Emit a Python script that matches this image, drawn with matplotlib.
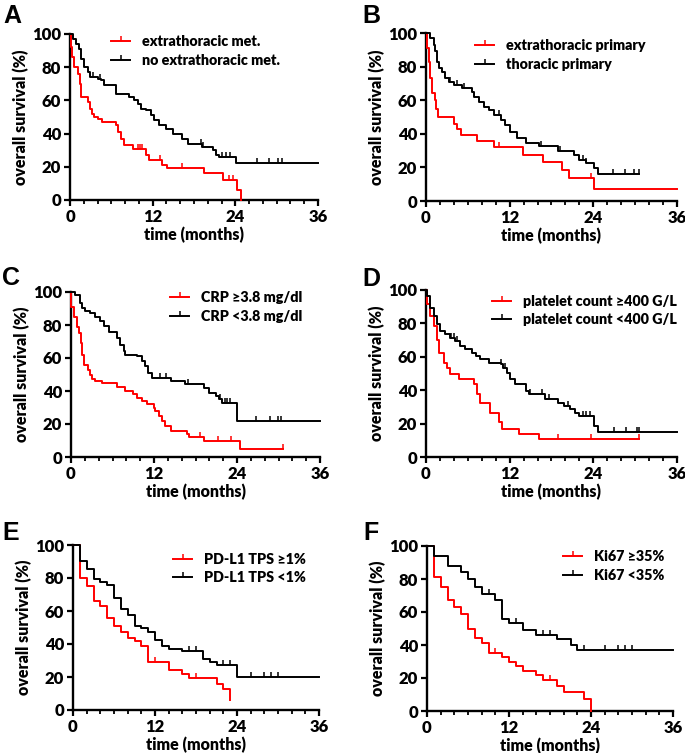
import numpy as np
import matplotlib
matplotlib.use("Agg")
import matplotlib.pyplot as plt
from matplotlib.path import Path
from matplotlib.lines import Line2D

plt.rcParams['font.family'] = ['Lato', 'DejaVu Sans']
plt.rcParams['font.weight'] = 'heavy'

# ---- data: event times (months), survival (%) after each event, end of follow-up, censor times
# A
a_red_t = [0, 0.1, 0.3, 0.6, 1.1, 1.4, 1.6, 2.6, 2.9, 3.2, 3.5, 4.0, 4.7, 6.7, 7.0, 7.4, 7.9, 9.1,
           11.0, 11.5, 13.4, 14.1, 19.5, 22.2, 24.2, 24.8]
a_red_s = [100, 92, 86, 80, 76, 70, 62, 59, 55, 52, 50, 49, 47, 45, 41, 37, 33, 31,
           27, 24, 21, 19, 16, 12, 6, 0]
a_red_end = 24.8
a_red_c = [9.8, 10.1, 10.5, 13.1, 16.2, 23.1, 23.6]
a_blk_t = [0, 0.4, 0.9, 1.25, 1.6, 2.1, 2.6, 2.9, 4.0, 4.5, 5.0, 6.7, 8.6, 9.3, 9.8, 10.3, 11.0,
           11.7, 12.2, 12.9, 13.9, 14.9, 16.3, 17.1, 19.2, 20.7, 21.2, 21.6, 24.1]
a_blk_s = [100, 97, 94, 91, 85, 80, 77, 74, 73, 72, 69, 64, 62, 60, 58, 55, 54,
           51, 48, 45, 43, 40, 37, 34, 32, 30, 27, 26, 22]
a_blk_end = 36
a_blk_c = [3.3, 4.4, 19.0, 19.3, 22.0, 22.6, 23.2, 27.1, 28.9, 30.2, 30.8]

# B
b_red_t = [0, 0.14, 0.38, 0.62, 0.86, 1.24, 1.43, 1.72, 4.0, 4.45, 5.07, 7.3, 9.7, 13.9, 16.8,
           19.5, 20.5, 24.1]
b_red_s = [100, 91, 83, 73, 64, 60, 55, 50, 46, 43, 39, 36, 32, 27.5, 23, 18.5, 13.5, 7]
b_red_end = 36
b_red_c = [10.4, 23.6]
b_blk_t = [0, 0.62, 1.1, 1.34, 1.58, 1.82, 2.3, 2.78, 3.25, 3.97, 5.17, 6.6, 6.84, 7.56, 8.28,
           9.0, 9.7, 10.7, 11.4, 12.1, 13.1, 14.3, 16.2, 19.0, 21.2, 21.9, 22.9, 24.1, 24.6]
b_blk_s = [100, 97, 93, 89, 83, 79, 77, 73, 71, 69, 67, 65, 62, 59, 56,
           54, 51, 48, 45, 41, 37.5, 34.5, 32.5, 29.5, 27.5, 24.5, 22.5, 19.5, 16]
b_blk_end = 30.6
b_blk_c = [3.5, 4.4, 5.5, 10.5, 16.5, 19.2, 22.0, 22.5, 23.0, 26.8, 28.6, 29.8, 30.6]

# C
c_red_t = [0, 0.05, 0.48, 0.87, 1.1, 1.45, 1.6, 1.83, 2.4, 2.7, 3.0, 3.5, 4.5, 6.6, 7.85, 9.0,
           9.5, 10.3, 11.0, 12.0, 12.2, 12.7, 13.2, 13.6, 14.4, 16.8, 17.0, 19.2, 24.5]
c_red_s = [100, 91, 85, 79, 75, 69, 62, 56, 53, 50, 47, 46, 45, 42.5, 40, 38,
           36, 34, 32, 30, 28, 25, 22, 19, 16, 14, 12, 10, 5]
c_red_end = 30.6
c_red_c = [18.7, 21.2, 23.1, 30.6]
c_blk_t = [0, 0.63, 1.35, 1.6, 2.07, 2.8, 3.5, 4.24, 4.7, 5.45, 6.65, 7.13, 7.6, 7.86, 9.5,
           10.3, 10.75, 11.2, 11.7, 14.4, 16.5, 19.3, 19.9, 20.9, 21.4, 21.9, 24.0]
c_blk_s = [100, 98, 93.5, 90.5, 88.5, 87, 85, 82.5, 79.5, 75.5, 72, 68, 64, 62, 61,
           58, 55, 51, 48, 46, 44, 42, 39, 37, 35, 33, 22]
c_blk_end = 36
c_blk_c = [12.9, 13.8, 16.9, 21.6, 22.2, 22.6, 23.0, 26.8, 28.8, 29.9, 30.3]

# D
d_red_t = [0, 0.14, 0.62, 1.1, 1.58, 1.82, 2.54, 3.0, 3.5, 4.7, 6.85, 7.3, 7.8, 9.2, 10.4,
           10.9, 13.3, 16.2]
d_red_s = [100, 91.5, 84.5, 78.5, 70, 62, 56, 53, 50, 47, 44, 38, 32.5, 26.5, 21,
           17, 14, 10.5]
d_red_end = 30.6
d_red_c = [19.0, 23.7, 30.6]
d_blk_t = [0, 0.14, 0.62, 1.1, 1.58, 2.06, 2.78, 3.5, 4.2, 4.9, 5.65, 6.6, 7.1, 7.8, 9.0, 10.7,
           11.1, 11.6, 12.1, 12.8, 14.3, 14.8, 17.1, 19.0, 19.8, 20.7, 21.4, 21.9, 24.1, 24.6]
d_blk_s = [100, 96.5, 89.5, 84.5, 79.5, 75.5, 73.5, 71.5, 69.5, 66.5, 64.5, 62.5, 60.5, 58.5,
           56.5, 55.5, 53.5, 50.5, 46.5, 43.5, 39.5, 37.5, 34.5, 32.5, 30.5, 28.5, 26.5, 24.5,
           18.5, 15]
d_blk_end = 36
d_blk_c = [3.6, 4.0, 4.5, 10.8, 11.3, 14.9, 16.7, 17.6, 20.4, 22.5, 23.0, 23.5, 26.9, 28.7,
           30.2, 30.6]

# E
e_red_t = [0, 1, 2, 3, 4, 5, 6, 7, 8, 9, 10, 11, 14, 16, 17, 21, 22, 23]
e_red_s = [100, 80, 75, 66, 63, 56, 51, 47.5, 43.5, 42, 38.5, 29, 24.5, 22, 19.5, 16, 12.5, 6]
e_red_end = 23
e_red_c = [12, 18]
e_blk_t = [0, 1, 2, 3, 4, 5, 6, 7, 8, 9, 10, 11, 12, 13, 14, 16, 19, 20, 21, 24]
e_blk_s = [100, 90.5, 85.5, 79.5, 77.5, 75.5, 68, 61, 57.5, 51, 49.5, 47.5, 42.5, 39, 37,
           35.5, 31, 29, 27, 20]
e_blk_end = 36
e_blk_c = [17, 18, 22, 23, 26, 28, 29, 30]

# F
f_red_t = [0, 1, 2, 3, 4, 5, 6, 7, 8, 9, 11, 12, 13, 14, 16, 17, 19, 20, 23, 24]
f_red_s = [100, 81, 75, 67, 63, 59, 50, 44, 41.5, 35, 33, 30, 27, 24.5, 22, 18.5, 15, 11.5,
           7.5, 0]
f_red_end = 24
f_red_c = [10, 18]
f_blk_t = [0, 1, 3, 5, 6, 7, 8, 10, 11, 12, 14, 16, 19, 21, 22]
f_blk_s = [100, 94, 88, 84, 80, 75, 71, 67.5, 56, 53.5, 49, 46, 43.5, 40, 37]
f_blk_end = 36
f_blk_c = [9, 13, 17, 18, 23, 26, 28, 29, 30]

labels = {
    'A': ('extrathoracic met.', 'no extrathoracic met.'),
    'B': ('extrathoracic primary', 'thoracic primary'),
    'C': ('CRP \u22653.8 mg/dl', 'CRP <3.8 mg/dl'),
    'D': ('platelet count \u2265400 G/L', 'platelet count <400 G/L'),
    'E': ('PD-L1 TPS \u22651%', 'PD-L1 TPS <1%'),
    'F': ('Ki67 \u226535%', 'Ki67 <35%'),
}

panels = [
    ('A', (a_red_t, a_red_s, a_red_end, a_red_c), (a_blk_t, a_blk_s, a_blk_end, a_blk_c)),
    ('B', (b_red_t, b_red_s, b_red_end, b_red_c), (b_blk_t, b_blk_s, b_blk_end, b_blk_c)),
    ('C', (c_red_t, c_red_s, c_red_end, c_red_c), (c_blk_t, c_blk_s, c_blk_end, c_blk_c)),
    ('D', (d_red_t, d_red_s, d_red_end, d_red_c), (d_blk_t, d_blk_s, d_blk_end, d_blk_c)),
    ('E', (e_red_t, e_red_s, e_red_end, e_red_c), (e_blk_t, e_blk_s, e_blk_end, e_blk_c)),
    ('F', (f_red_t, f_red_s, f_red_end, f_red_c), (f_blk_t, f_blk_s, f_blk_end, f_blk_c)),
]

# layout in pixels: left, right, top, bottom of plotting area; legend anchor; letter pos
W, H = 685, 753
boxes = {
    'A': (70, 318, 34, 200), 'B': (426, 677, 33, 201),
    'C': (71, 320, 292, 457), 'D': (426, 677, 290, 457),
    'E': (73, 319, 545, 710), 'F': (427, 673, 546, 711),
}
leg_anchor = {'A': (0.165, 0.995), 'B': (0.195, 0.965), 'C': (0.398, 1.005),
              'D': (0.263, 0.972), 'E': (0.407, 0.953), 'F': (0.553, 0.977)}
letter_pos = {'A': (3, 4), 'B': (362, 4), 'C': (2, 266), 'D': (362, 267),
              'E': (2, 521), 'F': (363, 521)}

tick = Path([(0, 0), (0, 1)])
RED = '#ff0000'
LW = 1.4

fig = plt.figure(figsize=(W / 100, H / 100), dpi=100)

def draw(ax, t, s, end, cens, color):
    x = list(t) + [end]
    y = list(s) + [s[-1]]
    ax.step(x, y, where='post', color=color, lw=LW, clip_on=False, zorder=3)
    idx = np.searchsorted(np.array(t), np.array(cens), side='right') - 1
    ax.plot(cens, np.array(s)[idx], ls='none', marker=tick, ms=6.5, mew=1.1,
            color=color, clip_on=False, zorder=3)

for key, red, blk in panels:
    l, r, tp, bt = boxes[key]
    ax = fig.add_axes([l / W, 1 - bt / H, (r - l) / W, (bt - tp) / H])
    draw(ax, *red, RED)
    draw(ax, *blk, 'black')
    ax.set_xlim(0, 36)
    ax.set_ylim(0, 100)
    ax.set_xticks([0, 12, 24, 36])
    ax.set_xticks(np.arange(0, 37, 2), minor=True)
    ax.set_yticks([0, 20, 40, 60, 80, 100])
    for sp in ['top', 'right']:
        ax.spines[sp].set_visible(False)
    for sp in ['left', 'bottom']:
        ax.spines[sp].set_linewidth(1.7)
    ax.tick_params(axis='both', which='major', length=4.5, width=1.6, labelsize=12, pad=2)
    ax.tick_params(axis='x', which='minor', length=3, width=1.3)
    ax.set_xlabel('time (months)', fontsize=11.5, fontweight='heavy', labelpad=1)
    ax.set_ylabel('overall survival (%)', fontsize=11.5, fontweight='heavy', labelpad=2)
    for lab in ax.get_xticklabels() + ax.get_yticklabels():
        lab.set_fontweight('heavy')
    handles = [Line2D([], [], color=RED, lw=LW, marker=tick, ms=6.5, mew=1.1),
               Line2D([], [], color='black', lw=LW, marker=tick, ms=6.5, mew=1.1)]
    ax.legend(handles, labels[key], loc='upper left', bbox_to_anchor=leg_anchor[key],
              frameon=False, borderpad=0, borderaxespad=0, handlelength=1.35,
              handletextpad=0.8, labelspacing=0.4, numpoints=1,
              prop={'size': 10.3, 'weight': 'heavy'})
    lx, ly = letter_pos[key]
    fig.text(lx / W, 1 - ly / H, key, fontsize=18, fontweight='bold',
             family=['Liberation Sans', 'DejaVu Sans'], va='top', ha='left')

fig.savefig('out.png', dpi=100)
